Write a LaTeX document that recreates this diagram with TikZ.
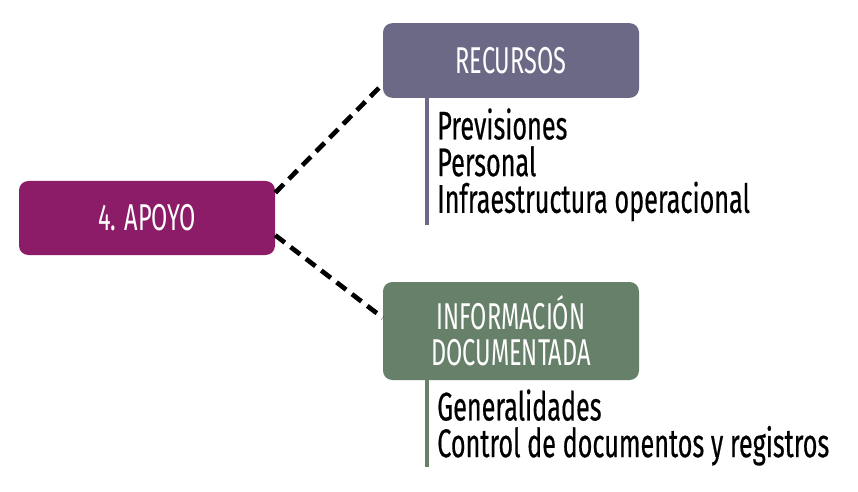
\documentclass[tikz,border=0pt]{standalone}
\usepackage{fontspec}
\setmainfont{Fira Sans}[FakeStretch=0.63, FakeBold=0.4]
\newfontfamily\titlefont{Fira Sans}[FakeStretch=0.63]
\usepackage{tikz}
\usetikzlibrary{
  calc,
  positioning,
}
\definecolor{apoyocol}{HTML}{8C1C67}
\definecolor{recursoscol}{HTML}{6B6986}
\definecolor{infocol}{HTML}{67806A}
\tikzset{
  titlebox/.style={rounded corners=7pt, text=white, align=center,
    minimum width=192pt, font=\titlefont\fontsize{28}{27}\selectfont},
  itemlist/.style={align=left, anchor=north west, inner sep=0pt,
    font=\fontsize{30}{27.5}\selectfont},
  link/.style={line width=3.5pt, dash pattern=on 9pt off 5.5pt},
}

\begin{document}
\begin{tikzpicture}[x=0.75pt, y=-0.75pt]
      \useasboundingbox (0,0) rectangle (858,492);
      \node [titlebox, fill=apoyocol, minimum height=55.5pt] (apoyo) at (147,218) {4. APOYO};
      \node [titlebox, fill=recursoscol, minimum height=56pt] (recursos) at (511,60.5) {RECURSOS};
      \node [titlebox, fill=infocol, minimum height=73.5pt] (info) at (511,331) {
        INFORMACIÓN \\ DOCUMENTADA
      };
      % listas
      \draw [recursoscol, line width=3pt] (427,98) coordinate (r0) -- (427,225) coordinate (r1);
      \draw [infocol, line width=3pt] (427,380) coordinate (i0) -- (427,467) coordinate (i1);
      \node [itemlist] (recitems) at (437,108) {
        Previsiones \\ Personal \\ Infraestructura operacional
      };
      \node [itemlist] (infoitems) at (437,389) {
        Generalidades \\ Control de documentos y registros
      };
      % conexiones
      \draw [link] ([yshift=-9pt]apoyo.north east) -- ([yshift=10.5pt]recursos.south west);
      \draw [link] ([yshift=15pt]apoyo.south east) -- ([yshift=-27pt]info.north west);
    \end{tikzpicture}
\end{document}
